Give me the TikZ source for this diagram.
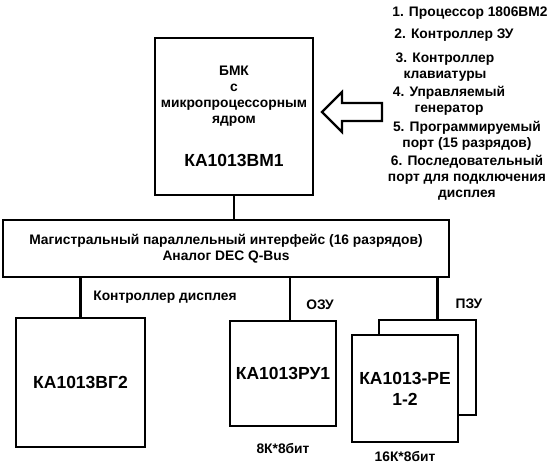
\documentclass[tikz,border=0pt]{standalone}
\usepackage{fontspec}
\setmainfont{Liberation Sans}
\usetikzlibrary{positioning}

\begin{document}
\begin{tikzpicture}[x=1pt, y=-1pt, line width=2.5pt,
    box/.style={draw, fill=white, inner sep=0pt, outer sep=0pt},
    txt/.style={font=\bfseries\fontsize{13.8}{16}\selectfont, align=center, inner sep=0pt},
    chip/.style={box, font=\bfseries\fontsize{17.5}{21}\selectfont, align=center}]
    \useasboundingbox (0,0) rectangle (550,467);

    \node[box, minimum width=158pt, minimum height=157pt] (cpu) at (234,116.5) {};
    \node[txt] (cpulbl) at (234,96) {БМК\\с\\микропроцессорным\\ядром};
    \node[chip, draw=none, fill=none] (cpuname) at (234,160) {КА1013ВМ1};

    \draw[line width=2.2pt] (322,112) -- (342,92) -- (342,103) -- (382,103)
        -- (382,121) -- (342,121) -- (342,132) -- cycle;

    \node[txt] (it1) at (470,13) {1. Процессор 1806ВМ2};
    \node[txt] (it2) at (454,35) {2. Контроллер ЗУ};
    \node[txt] (it3) at (445,67) {3. Контроллер\\клавиатуры};
    \node[txt] (it4) at (449,101) {4. Управляемый\\генератор};
    \node[txt] (it5) at (467,136) {5. Программируемый\\порт (15 разрядов)};
    \node[txt] (it6) at (467,178) {6. Последовательный\\порт для подключения\\дисплея};

    \node[box, txt, minimum width=446pt, minimum height=57pt] (bus) at (226,248.5)
        {Магистральный параллельный интерфейс (16 разрядов)\\Аналог DEC Q-Bus};

    \node[chip, minimum width=129pt, minimum height=129pt] (vg) at (80.5,382.5) {КА1013ВГ2};
    \node[chip, minimum width=106pt, minimum height=105pt] (ru) at (283,373.5) {КА1013РУ1};
    \node[box, minimum width=97pt, minimum height=95pt] (peback) at (427.5,367.5) {};
    \node[chip, minimum width=106pt, minimum height=107pt] (pe) at (405,388.5) {КА1013-РЕ\\1-2};

    \draw (cpu.south) -- (cpu.south |- bus.north);
    \draw (vg.north) -- (vg.north |- bus.south);
    \draw ([xshift=7pt]ru.north) -- ([xshift=7pt]ru.north |- bus.south);
    \draw ([xshift=10pt]peback.north) -- ([xshift=10pt]peback.north |- bus.south);

    \node[txt] (dispctl) at (165,297) {Контроллер дисплея};
    \node[txt] (ram) at (320,305) {ОЗУ};
    \node[txt] (rom) at (469,304) {ПЗУ};
    \node[txt, below=16pt of ru] (ramsize) {8К*8бит};
    \node[txt, below=8pt of pe] (romsize) {16К*8бит};
\end{tikzpicture}
\end{document}
